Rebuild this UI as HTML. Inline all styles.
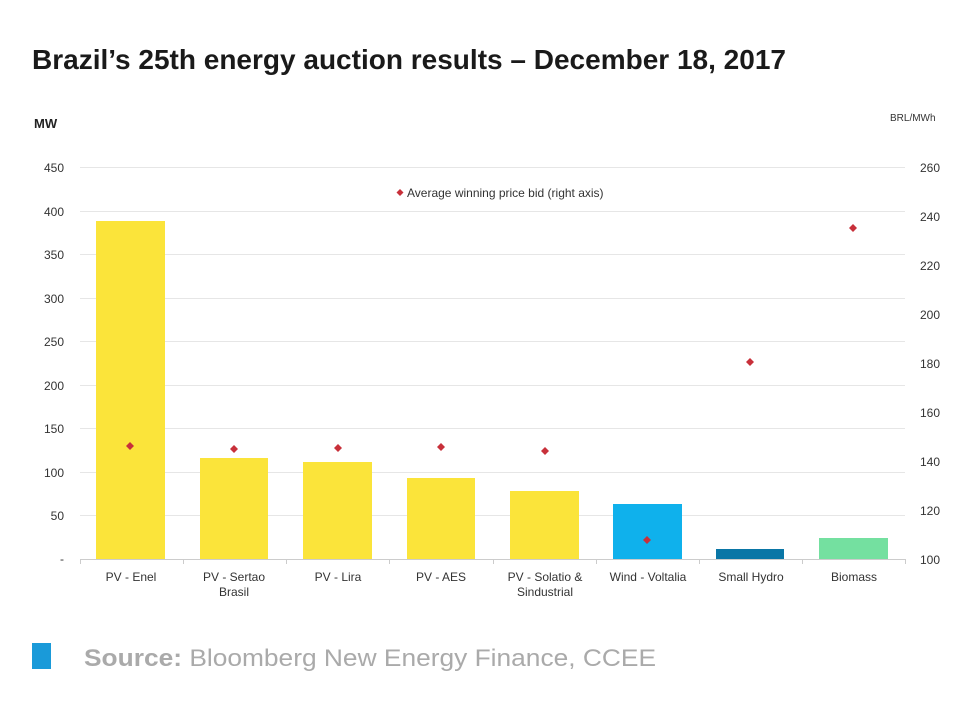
<!DOCTYPE html><html><head><style>body{margin:0;background:#fff}</style></head><body>
<svg width="978" height="706" xmlns="http://www.w3.org/2000/svg" font-family="Liberation Sans, sans-serif">
<rect width="978" height="706" fill="#fff"/>
<text x="32" y="69" font-size="28" font-weight="bold" fill="#1a1a1a" textLength="754" lengthAdjust="spacingAndGlyphs">Brazil’s 25th energy auction results – December 18, 2017</text>
<text x="34" y="128" font-size="13" font-weight="bold" fill="#222">MW</text>
<text x="890" y="121" font-size="10" fill="#333">BRL/MWh</text>
<g stroke="#e6e6e6" stroke-width="1">
<line x1="80" x2="905" y1="167.5" y2="167.5"/><line x1="80" x2="905" y1="211.5" y2="211.5"/>
<line x1="80" x2="905" y1="254.5" y2="254.5"/><line x1="80" x2="905" y1="298.5" y2="298.5"/>
<line x1="80" x2="905" y1="341.5" y2="341.5"/><line x1="80" x2="905" y1="385.5" y2="385.5"/>
<line x1="80" x2="905" y1="428.5" y2="428.5"/><line x1="80" x2="905" y1="472.5" y2="472.5"/>
<line x1="80" x2="905" y1="515.5" y2="515.5"/></g>
<g font-size="12" fill="#333" text-anchor="end">
<text x="64" y="172">450</text><text x="64" y="216">400</text><text x="64" y="259">350</text>
<text x="64" y="303">300</text><text x="64" y="346">250</text><text x="64" y="390">200</text>
<text x="64" y="433">150</text><text x="64" y="477">100</text><text x="64" y="520">50</text><text x="64" y="563">-</text></g>
<g font-size="12" fill="#333">
<text x="920" y="172">260</text><text x="920" y="221">240</text><text x="920" y="270">220</text>
<text x="920" y="319">200</text><text x="920" y="368">180</text><text x="920" y="417">160</text>
<text x="920" y="466">140</text><text x="920" y="515">120</text><text x="920" y="564">100</text></g>
<g fill="#fbe43a">
<rect x="96" y="221" width="69" height="338"/><rect x="200" y="458" width="68" height="101"/>
<rect x="303" y="462" width="69" height="97"/><rect x="407" y="478" width="68" height="81"/>
<rect x="510" y="491" width="69" height="68"/></g>
<rect x="613" y="504" width="69" height="55" fill="#0fb1ec"/>
<rect x="716" y="549" width="68" height="10" fill="#0a76a6"/>
<rect x="819" y="538" width="69" height="21" fill="#74e0a0"/>
<line x1="80" x2="905" y1="559.5" y2="559.5" stroke="#ccc"/>
<g stroke="#ccc"><line x1="80.5" x2="80.5" y1="559" y2="564"/><line x1="183.5" x2="183.5" y1="559" y2="564"/><line x1="286.5" x2="286.5" y1="559" y2="564"/><line x1="389.5" x2="389.5" y1="559" y2="564"/><line x1="493.5" x2="493.5" y1="559" y2="564"/><line x1="596.5" x2="596.5" y1="559" y2="564"/><line x1="699.5" x2="699.5" y1="559" y2="564"/><line x1="802.5" x2="802.5" y1="559" y2="564"/><line x1="905.5" x2="905.5" y1="559" y2="564"/></g>
<g font-size="12" fill="#333" text-anchor="middle">
<text x="131" y="581">PV - Enel</text><text x="234" y="581">PV - Sertao</text><text x="234" y="596">Brasil</text>
<text x="338" y="581">PV - Lira</text><text x="441" y="581">PV - AES</text>
<text x="545" y="581">PV - Solatio &amp;</text><text x="545" y="596">Sindustrial</text>
<text x="648" y="581">Wind - Voltalia</text><text x="751" y="581">Small Hydro</text><text x="854" y="581">Biomass</text></g>
<g fill="#c8303a">
<path d="M130 442l4 4-4 4-4-4z"/><path d="M234 445l4 4-4 4-4-4z"/><path d="M338 444l4 4-4 4-4-4z"/>
<path d="M441 443l4 4-4 4-4-4z"/><path d="M545 447l4 4-4 4-4-4z"/><path d="M647 536l4 4-4 4-4-4z"/>
<path d="M750 358l4 4-4 4-4-4z"/><path d="M853 224l4 4-4 4-4-4z"/><path d="M400 189l3.5 3.5-3.5 3.5-3.5-3.5z"/></g>
<text x="407" y="197" font-size="12" fill="#333">Average winning price bid (right axis)</text>
<rect x="32" y="643" width="19" height="26" fill="#1a9ad9"/>
<text x="84" y="666" font-size="24" fill="#aaa" textLength="572" lengthAdjust="spacingAndGlyphs"><tspan font-weight="bold">Source:</tspan> Bloomberg New Energy Finance, CCEE</text>
</svg></body></html>
